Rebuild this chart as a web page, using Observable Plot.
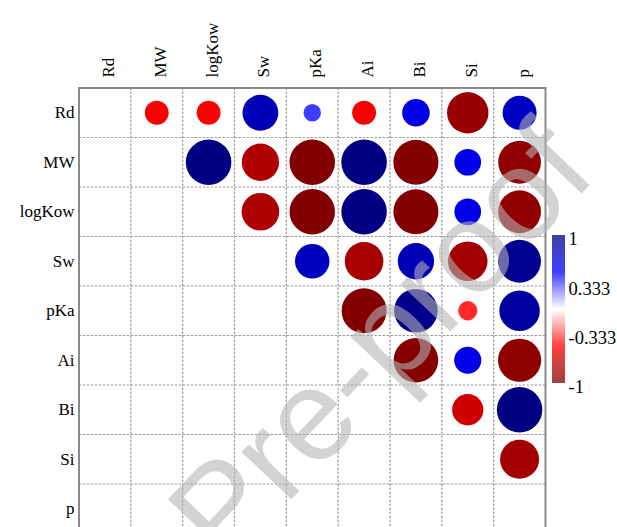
<!DOCTYPE html>
<html><head><meta charset="utf-8">
<script src="https://cdn.jsdelivr.net/npm/d3@7"></script>
<script src="https://cdn.jsdelivr.net/npm/@observablehq/plot@0.6"></script>
<style>
html,body{margin:0;padding:0;background:#fff;}
#wrap{position:relative;width:617px;height:527px;overflow:hidden;background:#fff;}
#wrap svg{position:absolute;left:0;top:0;}
</style></head><body><div id="wrap"></div>
<script>
// Variables (rows and columns of the correlation matrix)
const vars = ["Rd","MW","logKow","Sw","pKa","Ai","Bi","Si","p"];
// Upper-triangle correlations, each row against the variables after it
const rRd     = [-0.52, -0.52, 0.78, 0.38, -0.52, 0.60, -0.90, 0.74];
const rMW     = [0.99, -0.81, -0.99, 0.99, -0.98, 0.58, -0.93];
const rLogKow = [-0.82, -0.99, 0.99, -0.98, 0.58, -0.93];
const rSw     = [0.75, -0.84, 0.79, -0.86, 0.93];
const rPKa    = [-0.98, 0.95, -0.42, 0.88];
const rAi     = [-0.97, 0.59, -0.94];
const rBi     = [-0.68, 0.99];
const rSi     = [-0.85];
const rows = [rRd, rMW, rLogKow, rSw, rPKa, rAi, rBi, rSi];
// Colour bar
const palette = ["#7F0000", "#FF0000", "#FFFFFF", "#0000FF", "#00007F"];
const paletteStops = [-1, -0.5, 0, 0.5, 1];
const legendTicks = [1, 0.333, -0.333, -1];
const legendLabels = ["1", "0.333", "-0.333", "-1"];
const watermark = "Pre-proof";

const cells = [];
rows.forEach((vals, i) => vals.forEach((v, k) => cells.push({i, j: i + 1 + k, v})));
const colorScale = {type: "linear", domain: paletteStops, range: palette, interpolate: "rgb"};

const main = Plot.plot({
  width: 617, height: 527,
  marginLeft: 78.5, marginRight: 72, marginTop: 87.5, marginBottom: -6,
  x: {domain: [0, 9], range: [78.5, 545], axis: null},
  y: {domain: [0, 9], range: [87.5, 533], axis: null},
  r: {type: "linear", domain: [0, 1], range: [0, 23]},
  color: colorScale,
  style: {fontFamily: "Liberation Serif", fontSize: "17px", background: "white", color: "black"},
  marks: [
    Plot.gridX(d3.range(1, 9), {stroke: "#9a9a9a", strokeOpacity: 1, strokeWidth: 1.2, strokeDasharray: "2.5,1.5"}),
    Plot.gridY(d3.range(1, 9), {stroke: "#9a9a9a", strokeOpacity: 1, strokeWidth: 1.2, strokeDasharray: "2.5,1.5"}),
    Plot.frame({stroke: "#8a8a8a", strokeWidth: 2}),
    Plot.dot(cells, {x: d => d.j + 0.5, y: d => d.i + 0.5, r: d => Math.abs(d.v), fill: d => d.v, stroke: null}),
    Plot.text(vars, {y: (d, i) => i + 0.5, frameAnchor: "left", textAnchor: "end", dx: -4.5, text: d => d, fill: "black"}),
    Plot.text(vars, {x: (d, i) => i + 0.5, frameAnchor: "top", textAnchor: "start", rotate: -90, dy: -10.5, dx: -3, text: d => d, fill: "black"})
  ]
});

const step = 2 / 148;
const steps = d3.range(-1, 1 - step / 2, step);
const legend = Plot.plot({
  width: 617, height: 527, margin: 0,
  x: {domain: [0, 1], range: [551.5, 565], axis: null},
  y: {domain: [-1, 1], range: [383, 235], axis: null},
  color: colorScale,
  style: {fontFamily: "Liberation Serif", fontSize: "18.5px", background: "transparent", color: "black"},
  marks: [
    Plot.rect(steps, {x1: () => 0, x2: () => 1, y1: d => d, y2: d => d + step, fill: d => d + step / 2, fillOpacity: 0.75, shapeRendering: "crispEdges"}),
    Plot.text(legendTicks, {x: () => 1, y: d => d, text: (d, i) => legendLabels[i], textAnchor: "start", dx: 3, dy: 4, fill: "black"})
  ]
});

const wm = d3.create("svg").attr("width", 617).attr("height", 527).style("pointer-events", "none");
wm.append("text")
  .attr("transform", "translate(412,372) rotate(-46.5)")
  .attr("text-anchor", "middle")
  .attr("font-family", "Liberation Sans")
  .attr("font-size", 130)
  .attr("fill", "#b4b4b4")
  .attr("fill-opacity", 0.59)
  .text(watermark);

const wrap = document.getElementById("wrap");
wrap.append(main, legend, wm.node());
</script></body></html>
